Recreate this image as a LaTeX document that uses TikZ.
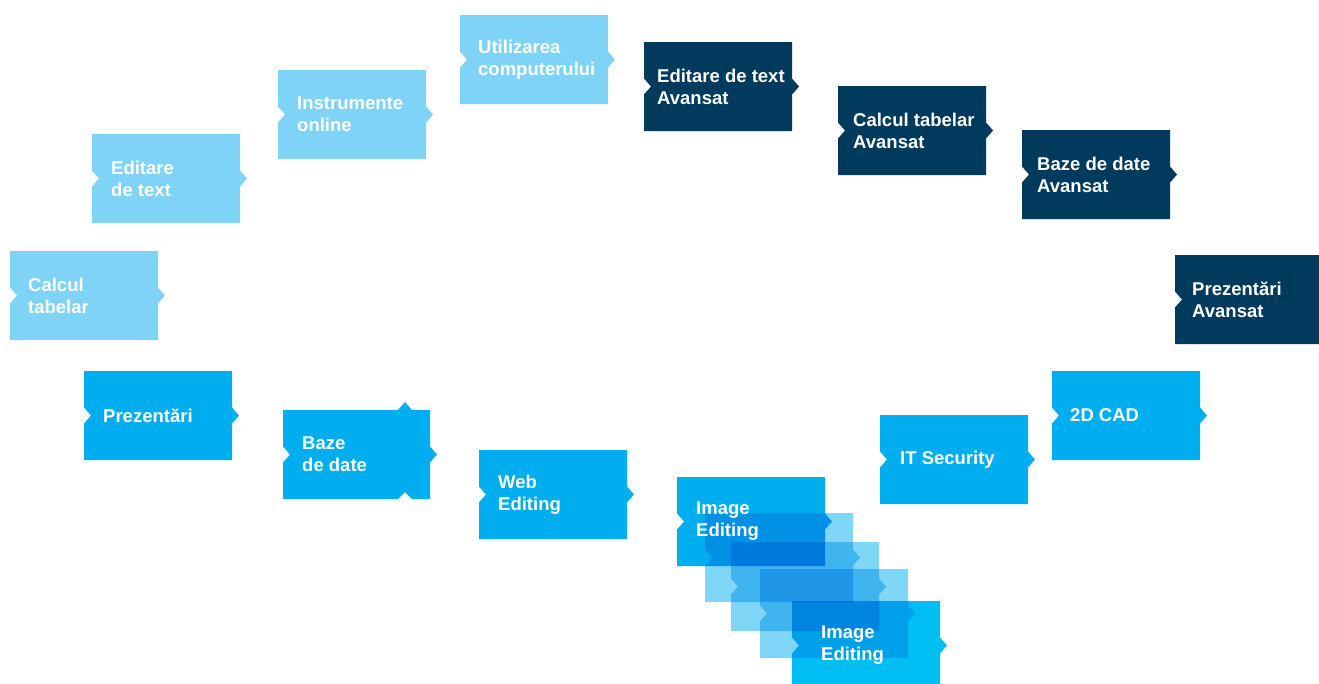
\documentclass[tikz,border=0pt]{standalone}
\usepackage{fontspec}
\setmainfont{Liberation Sans}
\usetikzlibrary{positioning}

\definecolor{lightblue}{HTML}{7FD3F7}
\definecolor{midblue}{HTML}{00AEEF}
\definecolor{navy}{HTML}{003A5D}
\definecolor{brightcyan}{HTML}{00BEF2}

% tile with notch on the left and tab on the right, #1 style, (#2,#3) top left corner
\newcommand{\tile}[3]{%
	\fill[#1] (#2,#3) -- ++(148,0) -- ++(0,36.5) -- ++(7,8) -- ++(-7,8) -- ++(0,36.5)
		-- ++(-148,0) -- ++(0,-36.5) -- ++(7,-8) -- ++(-7,-8) -- cycle;}

\begin{document}
\begin{tikzpicture}[x=1pt,y=-1pt,
	light/.style={fill=lightblue},
	mid/.style={fill=midblue},
	dark/.style={fill=navy},
	bright/.style={fill=brightcyan},
	faded/.style={fill=midblue, fill opacity=0.5},
	caption/.style={anchor=west, inner sep=0pt, align=left, text=white, font=\bfseries\fontsize{18.5}{22}\selectfont}]
		\useasboundingbox (0,0) rectangle (1319,683);
		\clip (0,0) rectangle (1319,683);

		\tile{light}{10}{251}
		\tile{light}{92}{134}
		\tile{light}{278}{70}
		\tile{light}{460}{15}
		\tile{dark}{644}{42}
		\tile{dark}{838}{86}
		\tile{dark}{1022}{130}
		\tile{dark}{1175}{255}
		\tile{mid}{84}{371}
		\fill[mid] (283,410) -- (398,410) -- (405,402) -- (412,410) -- (430,410) -- ++(0,36.5) -- ++(7,8) -- ++(-7,8) -- (430,499)
			-- (412,499) -- (405,492) -- (398,499) -- (283,499) -- ++(0,-36.5) -- ++(7,-8) -- ++(-7,-8) -- cycle;
		\tile{mid}{479}{450}
		\tile{mid}{880}{415}
		\tile{mid}{1052}{371}
		\tile{mid}{677}{477}
		\tile{bright}{792}{601}
		\begin{scope}[blend mode=multiply]
			\tile{faded}{705}{513}
			\tile{faded}{731}{542}
			\tile{faded}{760}{569}
		\end{scope}

		\node[caption] (CALC) 		at (28,295.5) 		{Calcul\\tabelar};
		\node[caption] (EDIT) 		at (111,178.5) 		{Editare\\de text};
		\node[caption] (ONLINE) 	at (297,114.5) 		{Instrumente\\online};
		\node[caption] (COMP) 		at (478,59.5) 		{Utilizarea\\computerului};
		\node[caption] (EDIT_AV) 	at (657,86.5) 		{Editare de text\\Avansat};
		\node[caption] (CALC_AV) 	at (853,130.5) 		{Calcul tabelar\\Avansat};
		\node[caption] (DB_AV) 		at (1037,174.5) 	{Baze de date\\Avansat};
		\node[caption] (PREZ_AV) 	at (1192,299.5) 	{Prezentări\\Avansat};
		\node[caption] (PREZ) 		at (103,415.5) 		{Prezentări};
		\node[caption] (DB) 		at (302,454.5) 		{Baze\\de date};
		\node[caption] (WEB) 		at (498,494.5) 		{Web\\Editing};
		\node[caption] (IMG) 		at (696,521.5) 		{Image\\Editing};
		\node[caption] (IMG_END) 	at (821,645.5) 		{Image\\Editing};
		\node[caption] (SEC) 		at (900,459.5) 		{IT Security};
		\node[caption] (CAD) 		at (1070,415.5) 	{2D CAD};
	\end{tikzpicture}
\end{document}
